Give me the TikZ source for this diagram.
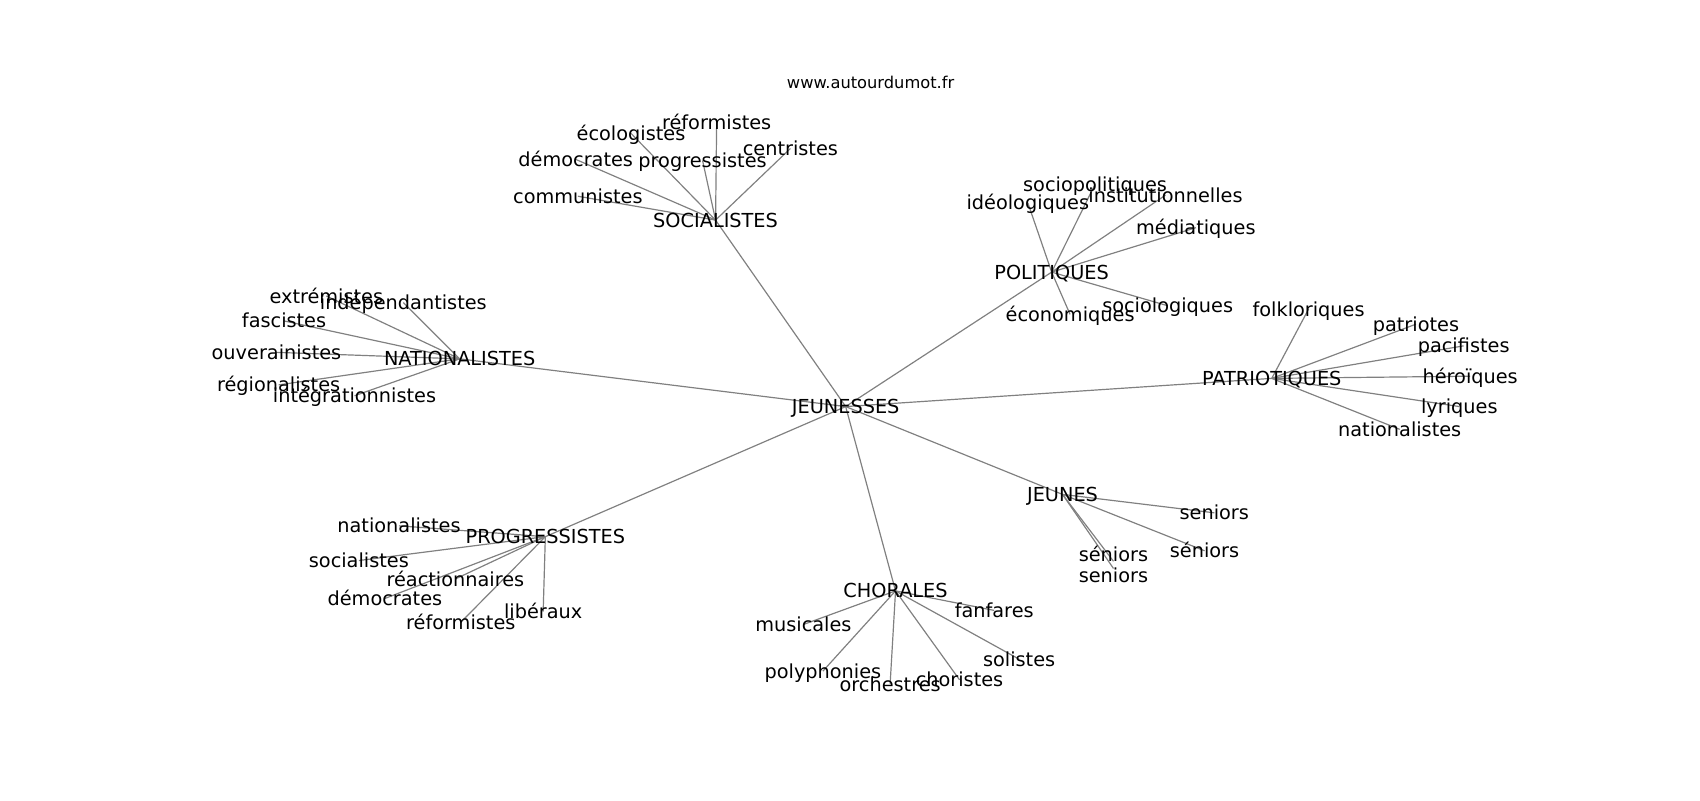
\documentclass[tikz,border=0pt]{standalone}
\usepackage{fontspec}
\setmainfont{DejaVu Sans}
\usetikzlibrary{backgrounds}
\begin{document}
\begin{tikzpicture}[x=1pt,y=-1pt]
        \useasboundingbox (0,0) rectangle (1568,738);

        \node[font=\fontsize{15}{18}\selectfont] (titre) at (803,76) {www.autourdumot.fr};

        \begin{scope}[every node/.style={inner sep=0pt,text height=13pt,text depth=0pt,font=\fontsize{17.8}{20}\selectfont}]
          \node (jeunesses)     at (780,375)  {JEUNESSES};
          \node (socialistes)   at (660,203)  {SOCIALISTES};
          \node (nationalistes) at (424,331)  {NATIONALISTES};
          \node (politiques)    at (970,251)  {POLITIQUES};
          \node (patriotiques)  at (1173,349) {PATRIOTIQUES};
          \node (progressistes) at (503,495)  {PROGRESSISTES};
          \node (chorales)      at (826,545)  {CHORALES};
          \node (jeunes)        at (980,456)  {JEUNES};

          \node (s1) at (661,113) {réformistes};
          \node (s2) at (582,123) {écologistes};
          \node (s3) at (729,137) {centristes};
          \node (s4) at (531,147) {démocrates};
          \node (s5) at (648,148) {progressistes};
          \node (s6) at (533,181) {communistes};

          \node (n1) at (301,273) {extrémistes};
          \node (n2) at (372,279) {indépendantistes};
          \node (n3) at (262,296) {fascistes};
          \node (n4) at (255,325) {ouverainistes};
          \node (n5) at (257,355) {régionalistes};
          \node (n6) at (327,365) {intégrationnistes};

          \node (p1) at (1010,170) {sociopolitiques};
          \node (p2) at (948,187)  {idéologiques};
          \node (p3) at (1075,180) {institutionnelles};
          \node (p4) at (1103,210) {médiatiques};
          \node (p5) at (1077,282) {sociologiques};
          \node (p6) at (987,290)  {économiques};

          \node (t1) at (1207,285) {folkloriques};
          \node (t2) at (1306,299) {patriotes};
          \node (t3) at (1350,319) {pacifistes};
          \node (t4) at (1356,347) {héroïques};
          \node (t5) at (1346,375) {lyriques};
          \node (t6) at (1291,396) {nationalistes};

          \node (g1) at (368,485) {nationalistes};
          \node (g2) at (331,517) {socialistes};
          \node (g3) at (420,534) {réactionnaires};
          \node (g4) at (355,552) {démocrates};
          \node (g5) at (425,574) {réformistes};
          \node (g6) at (501,564) {libéraux};

          \node (c1) at (741,576) {musicales};
          \node (c2) at (917,563) {fanfares};
          \node (c3) at (759,619) {polyphonies};
          \node (c4) at (821,631) {orchestres};
          \node (c5) at (885,627) {choristes};
          \node (c6) at (940,608) {solistes};

          \node (j1) at (1120,473) {seniors};
          \node (j2) at (1111,508) {séniors};
          \node (j3) at (1027,511) {séniors};
          \node (j4) at (1027,531) {seniors};
        \end{scope}

        \begin{scope}[on background layer,every edge/.style={draw,gray,line width=1.1pt}]
          \path (jeunesses.center) edge (socialistes.center);
          \path (jeunesses.center) edge (nationalistes.center);
          \path (jeunesses.center) edge (politiques.center);
          \path (jeunesses.center) edge (patriotiques.center);
          \path (jeunesses.center) edge (progressistes.center);
          \path (jeunesses.center) edge (chorales.center);
          \path (jeunesses.center) edge (jeunes.center);

          \path (socialistes.center) edge (s1.center);
          \path (socialistes.center) edge (s2.center);
          \path (socialistes.center) edge (s3.center);
          \path (socialistes.center) edge (s4.center);
          \path (socialistes.center) edge (s5.center);
          \path (socialistes.center) edge (s6.center);

          \path (nationalistes.center) edge (n1.center);
          \path (nationalistes.center) edge (n2.center);
          \path (nationalistes.center) edge (n3.center);
          \path (nationalistes.center) edge (n4.center);
          \path (nationalistes.center) edge (n5.center);
          \path (nationalistes.center) edge (n6.center);

          \path (politiques.center) edge (p1.center);
          \path (politiques.center) edge (p2.center);
          \path (politiques.center) edge (p3.center);
          \path (politiques.center) edge (p4.center);
          \path (politiques.center) edge (p5.center);
          \path (politiques.center) edge (p6.center);

          \path (patriotiques.center) edge (t1.center);
          \path (patriotiques.center) edge (t2.center);
          \path (patriotiques.center) edge (t3.center);
          \path (patriotiques.center) edge (t4.center);
          \path (patriotiques.center) edge (t5.center);
          \path (patriotiques.center) edge (t6.center);

          \path (progressistes.center) edge (g1.center);
          \path (progressistes.center) edge (g2.center);
          \path (progressistes.center) edge (g3.center);
          \path (progressistes.center) edge (g4.center);
          \path (progressistes.center) edge (g5.center);
          \path (progressistes.center) edge (g6.center);

          \path (chorales.center) edge (c1.center);
          \path (chorales.center) edge (c2.center);
          \path (chorales.center) edge (c3.center);
          \path (chorales.center) edge (c4.center);
          \path (chorales.center) edge (c5.center);
          \path (chorales.center) edge (c6.center);

          \path (jeunes.center) edge (j1.center);
          \path (jeunes.center) edge (j2.center);
          \path (jeunes.center) edge (j3.south);
          \path (jeunes.center) edge (j4.north);
        \end{scope}

      \end{tikzpicture}
\end{document}
